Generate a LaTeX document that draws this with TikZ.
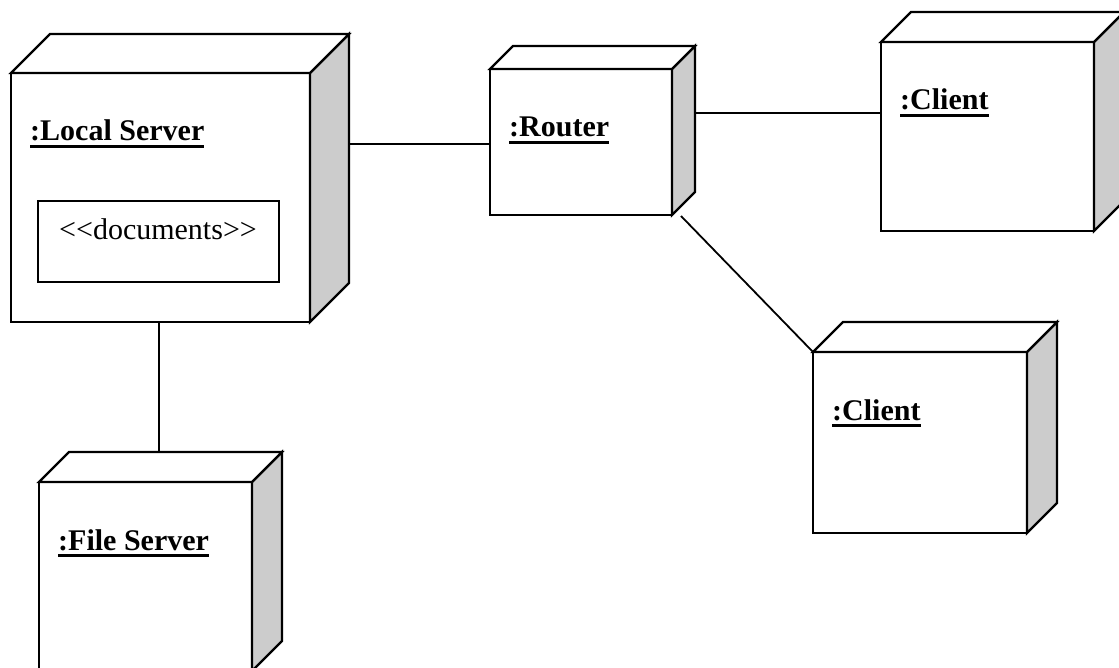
\documentclass[tikz,border=0pt]{standalone}
\usepackage{fontspec}
\setmainfont{Liberation Serif}
\usetikzlibrary{calc}

\definecolor{devshade}{gray}{0.8}

% underlined label text with a heavy rule just under the baseline
\newcommand\ulabel[1]{\setbox0\hbox{#1}\rlap{\rule[-7pt]{\wd0}{3pt}}\box0}

\tikzset{
  devfront/.style={rectangle, draw, line width=2.2pt, fill=white, inner sep=0pt, outer sep=0pt},
  devface/.style={draw, line width=2.2pt, line join=miter},
  devlabel/.style={inner sep=0pt, font=\bfseries\fontsize{30}{36}\selectfont},
  docbox/.style={rectangle, draw, line width=2pt, inner sep=0pt, outer sep=0pt},
  doctext/.style={inner sep=0pt, font=\fontsize{30}{36}\selectfont},
  link/.style={line width=1.8pt},
}

% UML deployment node: name, x, y (front top-left), width, height, depth, label
\newcommand\devnode[7]{%
  \node[devfront, minimum width=#4pt, minimum height=#5pt, anchor=north west] (#1) at (#2,#3) {};
  \path (#1.north east) ++(#6,-#6) coordinate (#1-bne);
  \path (#1.south east) ++(#6,-#6) coordinate (#1-bse);
  \path (#1.north west) ++(#6,-#6) coordinate (#1-bnw);
  \filldraw[devface, fill=devshade] (#1.north east) -- (#1-bne) -- (#1-bse) -- (#1.south east) -- cycle;
  \filldraw[devface, fill=white] (#1.north west) -- (#1-bnw) -- (#1-bne) -- (#1.north east) -- cycle;
  \node[devlabel, anchor=base west] (#1-name) at ([shift={(19,68)}]#1.north west) {\ulabel{#7}};
}

\begin{document}
\begin{tikzpicture}[x=1pt, y=-1pt]
  \useasboundingbox (0,0) rectangle (1119,668);
  \clip (0,0) rectangle (1119,668);

  % nodes
  \devnode{local}{11}{73}{299}{249}{39}{:Local Server}
  \devnode{router}{490}{69}{182}{146}{23}{:Router}
  \devnode{client1}{881}{42}{213}{189}{30}{:Client}
  \devnode{client2}{813}{352}{214}{181}{30}{:Client}
  \devnode{file}{39}{482}{213}{189}{30}{:File Server}

  % artifact inside the local server
  \node[docbox, minimum width=241pt, minimum height=81pt, anchor=north west] (docs) at (38,201) {};
  \node[doctext, anchor=base] (docs-text) at (158,240) {<{}<documents>{}>};

  % connection points
  \path (local-bne) ++(0,110) coordinate (local-port);
  \path (local.south) ++(-1.5,0) coordinate (local-foot);
  \path (router-bne) ++(0,67) coordinate (router-port);
  \path (router.south east) ++(9,1) coordinate (router-foot);

  % links
  \draw[link] (local-port) -- (local-port -| router.west);
  \draw[link] (router-port) -- (router-port -| client1.west);
  \draw[link] (router-foot) -- (client2.north west);
  \draw[link] (local-foot) -- (local-foot |- file-bnw);
\end{tikzpicture}
\end{document}
